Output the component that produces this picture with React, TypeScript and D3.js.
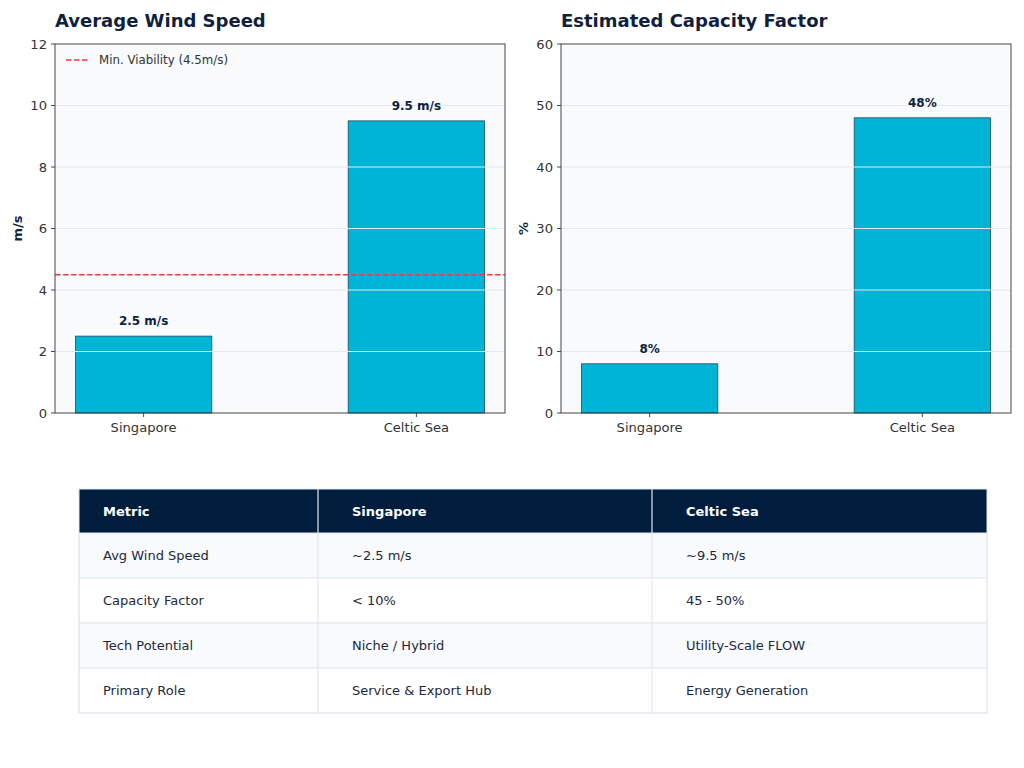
import React from 'react';
import * as d3 from 'd3';

// chart data
const regions = ['Singapore', 'Celtic Sea'];
const windSpeed = [2.5, 9.5];
const capacityFactor = [8, 48];
const windTicks = [0, 2, 4, 6, 8, 10, 12];
const capacityTicks = [0, 10, 20, 30, 40, 50, 60];
const viabilityThreshold = 4.5;

// table data
const tableHeader = ['Metric', 'Singapore', 'Celtic Sea'];
const tableMetrics = ['Avg Wind Speed', 'Capacity Factor', 'Tech Potential', 'Primary Role'];
const tableSingapore = ['~2.5 m/s', '< 10%', 'Niche / Hybrid', 'Service & Export Hub'];
const tableCeltic = ['~9.5 m/s', '45 - 50%', 'Utility-Scale FLOW', 'Energy Generation'];

const FONT = '"DejaVu Sans", sans-serif';
const NAVY = '#0f1f3d';
const BAR = '#00b4d8';
const GRID = '#e2e8f0';

interface PanelProps {
  left: number;
  title: string;
  yLabel: string;
  values: number[];
  ticks: number[];
  fmt: (v: number) => string;
  threshold?: number;
}

const Panel: React.FC<PanelProps> = ({ left, title, yLabel, values, ticks, fmt, threshold }) => {
  const top = 44;
  const bottom = 413;
  const width = 450;
  const barW = 0.5;

  const x = d3.scaleLinear().domain([-0.325, 1.325]).range([left, left + width]);
  const y = d3.scaleLinear().domain([0, d3.max(ticks) as number]).range([bottom, top]);

  return (
    <g fontFamily={FONT}>
      <text x={left} y={27} fontSize={18} fontWeight="bold" fill={NAVY}>{title}</text>
      <rect x={left} y={top} width={width} height={bottom - top} fill="#f8fafc" />

      {regions.map((r, i) => (
        <rect
          key={r}
          x={x(i - barW / 2)}
          y={y(values[i])}
          width={x(i + barW / 2) - x(i - barW / 2)}
          height={bottom - y(values[i])}
          fill={BAR}
          stroke="#1b4f5e"
          strokeWidth={0.8}
        />
      ))}

      {/* grid above bars */}
      {ticks.filter(t => t > 0 && t < (d3.max(ticks) as number)).map(t => (
        <line key={t} x1={left} x2={left + width} y1={y(t)} y2={y(t)} stroke={GRID} strokeWidth={1} />
      ))}

      {threshold !== undefined && (
        <g>
          <line x1={left} x2={left + width} y1={y(threshold)} y2={y(threshold)}
            stroke="#ef3b3b" strokeWidth={1.5} strokeDasharray="5.5,2.5" />
          <line x1={left + 11} x2={left + 35} y1={60} y2={60}
            stroke="#ef3b3b" strokeWidth={1.5} strokeDasharray="5.5,2.5" />
          <text x={left + 44} y={64} fontSize={11.8} fill="#333">Min. Viability (4.5m/s)</text>
        </g>
      )}

      {regions.map((r, i) => (
        <text key={r} x={x(i)} y={y(values[i]) - 11} fontSize={12} fontWeight="bold"
          fill={NAVY} textAnchor="middle">{fmt(values[i])}</text>
      ))}

      {/* spines */}
      <rect x={left} y={top} width={width} height={bottom - top} fill="none" stroke="#333" strokeWidth={0.9} />

      {ticks.map(t => (
        <g key={t}>
          <line x1={left - 4} x2={left} y1={y(t)} y2={y(t)} stroke="#333" strokeWidth={0.9} />
          <text x={left - 8} y={y(t) + 4.5} fontSize={13.1} fill="#333" textAnchor="end">{t}</text>
        </g>
      ))}
      {regions.map((r, i) => (
        <g key={r}>
          <line x1={x(i)} x2={x(i)} y1={bottom} y2={bottom + 4} stroke="#333" strokeWidth={0.9} />
          <text x={x(i)} y={bottom + 19} fontSize={13.1} fill="#333" textAnchor="middle">{r}</text>
        </g>
      ))}

      <text transform={`translate(${left - 33},${(top + bottom) / 2}) rotate(-90)`}
        fontSize={13} fontWeight="bold" fill={NAVY} textAnchor="middle">{yLabel}</text>
    </g>
  );
};

const Table: React.FC = () => {
  const colX = [79, 318, 652, 987];
  const pad = [24, 34, 34];
  const rowY = [489, 533, 578, 623, 668, 713];
  const rows = tableMetrics.map((m, i) => [m, tableSingapore[i], tableCeltic[i]]);
  return (
    <g fontFamily={FONT} fontSize={13}>
      <rect x={colX[0]} y={rowY[0]} width={colX[3] - colX[0]} height={rowY[1] - rowY[0]} fill="#001d3d" />
      {tableHeader.map((h, j) => (
        <text key={h} x={colX[j] + pad[j]} y={(rowY[0] + rowY[1]) / 2 + 4.5} fill="#fff" fontWeight="bold">{h}</text>
      ))}
      {rows.map((row, i) => (
        <g key={i}>
          <rect x={colX[0]} y={rowY[i + 1]} width={colX[3] - colX[0]} height={rowY[i + 2] - rowY[i + 1]}
            fill={i % 2 === 0 ? '#f8fafc' : '#ffffff'} stroke={GRID} strokeWidth={1} />
          {row.map((c, j) => (
            <text key={j} x={colX[j] + pad[j]} y={(rowY[i + 1] + rowY[i + 2]) / 2 + 4} fill="#1e293b">{c}</text>
          ))}
        </g>
      ))}
      {[1, 2].map(j => (
        <line key={j} x1={colX[j]} x2={colX[j]} y1={rowY[0]} y2={rowY[5]} stroke={GRID} strokeWidth={1.2} />
      ))}
      <rect x={colX[0]} y={rowY[0]} width={colX[3] - colX[0]} height={rowY[5] - rowY[0]} fill="none" stroke={GRID} strokeWidth={1} />
    </g>
  );
};

export default function App() {
  return (
    <svg width={1024} height={768} style={{ position: 'absolute', left: 0, top: 0, background: '#fff' }}>
      <rect width={1024} height={768} fill="#fff" />
      <Panel left={55} title="Average Wind Speed" yLabel="m/s" values={windSpeed} ticks={windTicks}
        fmt={v => `${v} m/s`} threshold={viabilityThreshold} />
      <Panel left={561} title="Estimated Capacity Factor" yLabel="%" values={capacityFactor} ticks={capacityTicks}
        fmt={v => `${v}%`} />
      <Table />
    </svg>
  );
}
